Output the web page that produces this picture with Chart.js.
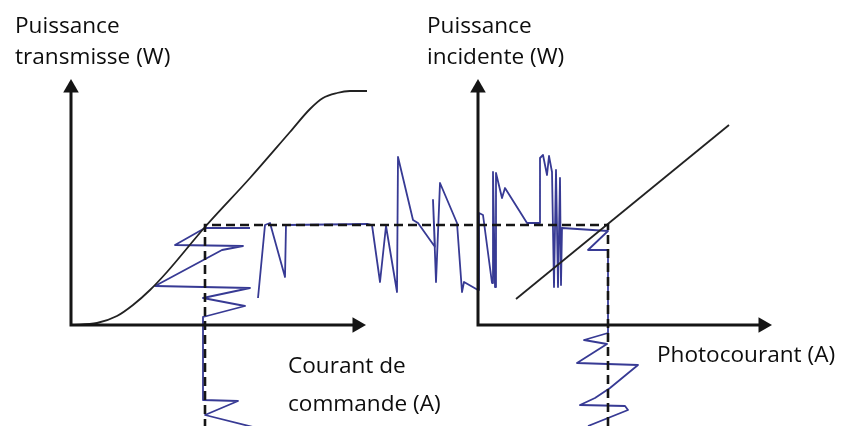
<!DOCTYPE html>
<html><head><meta charset="utf-8">
<script src="https://cdn.jsdelivr.net/npm/chart.js@4.4.0/dist/chart.umd.min.js"></script>
<style>
html,body{margin:0;padding:0;background:#fff;overflow:hidden}
#wrap{position:relative;width:844px;height:426px}
#c{position:absolute;left:0;top:0}
#labels{position:absolute;left:0;top:0;pointer-events:none}
#labels text{font-family:'Open Sans',sans-serif;font-size:22.6px;fill:#0d0d0d}
</style></head>
<body>
<div id="wrap">
<canvas id="c" width="844" height="426"></canvas>
<svg id="labels" width="844" height="426" xmlns="http://www.w3.org/2000/svg"></svg>
</div>
<script>
// ---- Data (x: command/photo current units, y: power units; origin = left axes origin) ----
const yTitleLeft = ["Puissance", "transmisse (W)"];
const yTitleRight = ["Puissance", "incidente (W)"];
const xTitleLeft = ["Courant de", "commande (A)"];
const xTitleRight = ["Photocourant (A)"];

// transfer curve of the modulator (transmitted power vs command current)
const transferX = [0, 26, 46, 62, 79, 96, 134, 179, 219, 239, 252, 266, 279, 296];
const transferY = [0, 2, 9, 20, 35, 53, 98, 147, 193, 216, 227, 232, 234, 234];

// photodiode response (incident power vs photocurrent)
const photoX = [445, 658];
const photoY = [26, 200];

// operating point construction (dashed)
const opX = [537, 537, 134, 134];
const opY = [-101, 100, 100, -101];

// noisy signal, first stroke
const noiseAX = [179, 134, 104, 172, 151, 84, 179, 132, 174, 132, 132, 167, 134, 186];
const noiseAY = [97, 97, 80, 79, 75, 39, 37, 27, 19, 8, -75, -76, -90, -103];

// noisy signal, second stroke
const noiseBX = [187, 194, 199, 214, 215, 297, 301, 309, 315, 326, 327, 342, 347, 364, 362, 365, 369, 386, 391, 393, 407, 408, 412, 421, 422, 424, 425, 431, 434, 456, 469, 469, 472, 476, 478, 481, 483, 485, 487, 489, 490, 491, 537, 517, 537, 537, 513, 536, 506, 567, 539, 524, 509, 554, 557, 517];
const noiseBY = [27, 100, 102, 48, 100, 101, 100, 43, 99, 33, 168, 105, 102, 78, 125, 43, 142, 102, 33, 43, 35, 112, 110, 42, 153, 38, 152, 127, 137, 102, 102, 167, 170, 150, 169, 153, 38, 155, 38, 147, 40, 97, 94, 75, 75, -8, -15, -19, -38, -40, -63, -73, -80, -81, -85, -101];

// axes (left panel and right panel), arrow heads
const axisLeftX = [0, 0, 282];
const axisLeftY = [233, 0, 0];
const axisRightX = [407, 407, 688];
const axisRightY = [233, 0, 0];
const arrowX = [0, 286, 407, 692];
const arrowY = [237, 0, 237, 0];
const arrowRot = [0, 90, 0, 90];

const pts = (xs, ys) => xs.map((x, i) => ({x: x, y: ys[i]}));

const blue = '#373a94';
const ink = '#151515';

new Chart(document.getElementById('c'), {
  type: 'scatter',
  data: {
    datasets: [
      {data: pts(arrowX, arrowY), showLine: false, pointStyle: 'triangle', pointRadius: 9,
       rotation: arrowRot, backgroundColor: ink, borderColor: ink, borderWidth: 0},
      {data: pts(axisLeftX, axisLeftY), showLine: true, borderColor: ink, borderWidth: 3, pointRadius: 0, borderJoinStyle: 'miter'},
      {data: pts(axisRightX, axisRightY), showLine: true, borderColor: ink, borderWidth: 3, pointRadius: 0, borderJoinStyle: 'miter'},
      {data: pts(opX, opY), showLine: true, borderColor: ink, borderWidth: 2.6, borderDash: [9, 5], pointRadius: 0},
      {data: pts(transferX, transferY), showLine: true, borderColor: '#222', borderWidth: 1.8, pointRadius: 0, cubicInterpolationMode: 'monotone'},
      {data: pts(photoX, photoY), showLine: true, borderColor: '#222', borderWidth: 1.8, pointRadius: 0},
      {data: pts(noiseAX, noiseAY), showLine: true, borderColor: blue, borderWidth: 1.8, pointRadius: 0, borderJoinStyle: 'round'},
      {data: pts(noiseBX, noiseBY), showLine: true, borderColor: blue, borderWidth: 1.8, pointRadius: 0, borderJoinStyle: 'round'}
    ]
  },
  options: {
    responsive: false,
    animation: false,
    devicePixelRatio: 1,
    layout: {padding: 0, autoPadding: false},
    plugins: {legend: {display: false}, tooltip: {enabled: false}},
    scales: {
      x: {type: 'linear', min: -71, max: 773, display: false},
      y: {type: 'linear', min: -101, max: 325, display: false}
    }
  }
});

// ---- text labels ----
const svg = document.getElementById('labels');
const labelLayout = [
  {lines: yTitleLeft, x: 15, y: [33, 64]},
  {lines: yTitleRight, x: 427, y: [33, 64]},
  {lines: xTitleLeft, x: 288, y: [373, 411]},
  {lines: xTitleRight, x: 657, y: [362]}
];
labelLayout.forEach(l => l.lines.forEach((s, i) => {
  const t = document.createElementNS('http://www.w3.org/2000/svg', 'text');
  t.setAttribute('x', l.x);
  t.setAttribute('y', l.y[i]);
  t.textContent = s;
  svg.appendChild(t);
}));
</script>
</body></html>
